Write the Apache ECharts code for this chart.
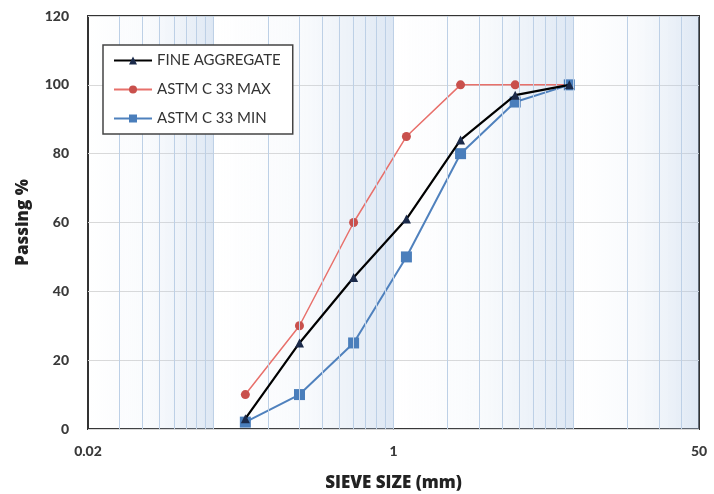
<!DOCTYPE html>
<html>
<head>
<meta charset="utf-8">
<script src="https://cdn.jsdelivr.net/npm/echarts@6/dist/echarts.min.js"></script>
<style>
  html, body { margin: 0; padding: 0; background: #fff; }
  #chart { width: 714px; height: 494px; }
</style>
</head>
<body>
<div id="chart"></div>
<script>
  // sieve sizes (mm)
  const sieveSizes = [0.15, 0.3, 0.6, 1.18, 2.36, 4.75, 9.5]
  const fineAggregate = [3, 25, 44, 61, 84, 97, 100]
  const astmMax = [10, 30, 60, 85, 100, 100, 100]
  const astmMin = [2, 10, 25, 50, 80, 95, 100]
  const yTicks = [0, 20, 40, 60, 80, 100, 120]

  // log grid lines 0.02 .. 50 and decade edges for the shading
  const decadeEdges = [0.02, 0.1, 1, 10, 50]
  const gridValues = []
  ;[0.01, 0.1, 1, 10].forEach(d => {
    for (let k = 1; k <= 9; k++) {
      const v = +(d * k).toFixed(4)
      if (v > 0.02 && v < 50) gridValues.push(v)
    }
  })

  const font = 'Lato, "Liberation Sans", sans-serif'
  const pairs = ys => sieveSizes.map((x, i) => [x, ys[i]])

  const shade = {
    type: 'linear', x: 0, y: 0, x2: 1, y2: 0,
    colorStops: [
      { offset: 0, color: 'rgba(200,216,236,0)' },
      { offset: 0.5, color: 'rgba(200,216,236,0.12)' },
      { offset: 1, color: 'rgba(170,195,226,0.4)' }
    ]
  }
  const bands = []
  for (let i = 0; i < decadeEdges.length - 1; i++) {
    bands.push([{ xAxis: decadeEdges[i] }, { xAxis: decadeEdges[i + 1] }])
  }

  const chart = echarts.init(document.getElementById('chart'))
  chart.setOption({
    animation: false,
    textStyle: { fontFamily: font },
    grid: {
      left: 88, right: 15, top: 16, bottom: 65,
      outerBoundsMode: 'none', containLabel: false,
      show: true, borderColor: '#333', borderWidth: 2
    },
    legend: {
      left: 103, top: 45, orient: 'vertical', z: 20,
      backgroundColor: '#fff', borderColor: '#444', borderWidth: 1.5,
      padding: [8, 12, 8, 10], itemGap: 14,
      itemWidth: 38, itemHeight: 10,
      textStyle: { fontSize: 15, color: '#333', fontFamily: font },
      data: ['FINE AGGREGATE', 'ASTM C 33 MAX', 'ASTM C 33 MIN']
    },
    xAxis: {
      type: 'log', logBase: 50, min: 0.02, max: 50,
      name: 'SIEVE SIZE (mm)', nameLocation: 'middle', nameGap: 46,
      nameTextStyle: { fontSize: 17, fontWeight: 900, color: '#222', fontFamily: '"Open Sans", sans-serif' },
      axisLine: { show: false },
      axisTick: { show: false },
      splitLine: { show: false },
      axisLabel: { fontSize: 14, fontWeight: 900, color: '#3a3a3a', margin: 15 }
    },
    yAxis: {
      type: 'value', min: yTicks[0], max: yTicks[yTicks.length - 1], interval: 20,
      name: 'Passing %', nameLocation: 'middle', nameGap: 56, nameRotate: 90,
      nameTextStyle: { fontSize: 17, fontWeight: 900, color: '#222', fontFamily: '"Open Sans", sans-serif' },
      axisLine: { show: false },
      axisTick: { show: false },
      splitLine: { lineStyle: { color: '#d9d9d9', width: 1 } },
      axisLabel: { fontSize: 14, fontWeight: 900, color: '#3a3a3a', margin: 19 }
    },
    series: [
      {
        name: 'grid', type: 'line', data: [], z: 0, silent: true,
        markArea: { silent: true, itemStyle: { color: shade }, data: bands },
        markLine: {
          silent: true, symbol: 'none', label: { show: false },
          lineStyle: { color: '#bdd0e6', width: 1, type: 'solid' },
          data: gridValues.map(v => ({ xAxis: v }))
        }
      },
      {
        name: 'ASTM C 33 MAX', type: 'line', data: pairs(astmMax), z: 3,
        symbol: 'circle', symbolSize: 9,
        lineStyle: { color: '#e8706b', width: 1.5 },
        itemStyle: { color: '#c9504c' }
      },
      {
        name: 'ASTM C 33 MIN', type: 'line', data: pairs(astmMin), z: 4,
        symbol: 'rect', symbolSize: 11,
        lineStyle: { color: '#4f81bd', width: 2 },
        itemStyle: { color: '#4a7ebb' }
      },
      {
        name: 'FINE AGGREGATE', type: 'line', data: pairs(fineAggregate), z: 5,
        symbol: 'triangle', symbolSize: 9,
        lineStyle: { color: '#000', width: 2.2 },
        itemStyle: { color: '#1b2a4a' }
      }
    ]
  })
</script>
</body>
</html>
